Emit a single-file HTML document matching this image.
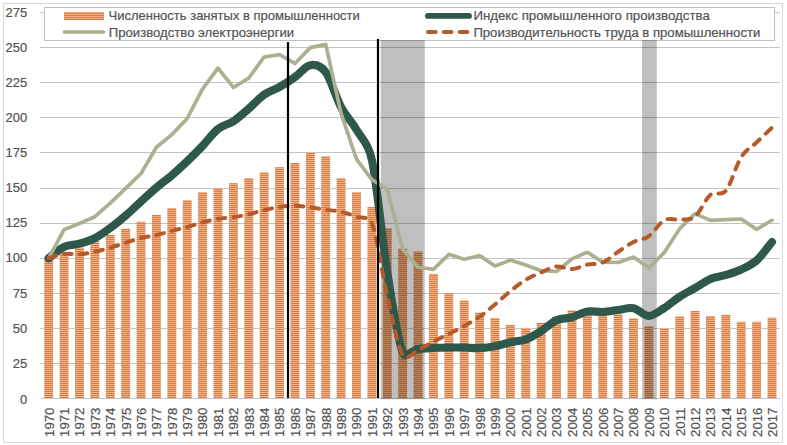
<!DOCTYPE html><html><head><meta charset="utf-8"><style>html,body{margin:0;padding:0;background:#fff;}svg{display:block;}</style></head><body>
<svg width="787" height="445" viewBox="0 0 787 445">
<defs><pattern id="hs" patternUnits="userSpaceOnUse" x="0" y="0" width="4" height="2"><rect x="0" y="0" width="4" height="1" fill="#f9b07c"/><rect x="0" y="1" width="4" height="1" fill="#d08050"/></pattern></defs>
<rect x="0" y="0" width="787" height="445" fill="#fff"/>
<rect x="3.5" y="3.5" width="779" height="439" fill="none" stroke="#d9d9d9" stroke-width="1"/>
<line x1="40" y1="363.5" x2="779.7" y2="363.5" stroke="#c4c4c4" stroke-width="1"/>
<line x1="40" y1="328.5" x2="779.7" y2="328.5" stroke="#c4c4c4" stroke-width="1"/>
<line x1="40" y1="293.5" x2="779.7" y2="293.5" stroke="#c4c4c4" stroke-width="1"/>
<line x1="40" y1="258.5" x2="779.7" y2="258.5" stroke="#c4c4c4" stroke-width="1"/>
<line x1="40" y1="223.5" x2="779.7" y2="223.5" stroke="#c4c4c4" stroke-width="1"/>
<line x1="40" y1="188.5" x2="779.7" y2="188.5" stroke="#c4c4c4" stroke-width="1"/>
<line x1="40" y1="152.5" x2="779.7" y2="152.5" stroke="#c4c4c4" stroke-width="1"/>
<line x1="40" y1="117.5" x2="779.7" y2="117.5" stroke="#c4c4c4" stroke-width="1"/>
<line x1="40" y1="82.5" x2="779.7" y2="82.5" stroke="#c4c4c4" stroke-width="1"/>
<line x1="40" y1="47.5" x2="779.7" y2="47.5" stroke="#c4c4c4" stroke-width="1"/>
<line x1="40" y1="12.5" x2="779.7" y2="12.5" stroke="#c4c4c4" stroke-width="1"/>
<text x="27.3" y="403.5" text-anchor="end" font-size="13" fill="#535353" font-family="Liberation Sans, sans-serif" stroke="#535353" stroke-width="0.2">0</text>
<text x="27.3" y="367.7" text-anchor="end" font-size="13" fill="#535353" font-family="Liberation Sans, sans-serif" stroke="#535353" stroke-width="0.2">25</text>
<text x="27.3" y="332.6" text-anchor="end" font-size="13" fill="#535353" font-family="Liberation Sans, sans-serif" stroke="#535353" stroke-width="0.2">50</text>
<text x="27.3" y="297.5" text-anchor="end" font-size="13" fill="#535353" font-family="Liberation Sans, sans-serif" stroke="#535353" stroke-width="0.2">75</text>
<text x="27.3" y="262.4" text-anchor="end" font-size="13" fill="#535353" font-family="Liberation Sans, sans-serif" stroke="#535353" stroke-width="0.2">100</text>
<text x="27.3" y="227.4" text-anchor="end" font-size="13" fill="#535353" font-family="Liberation Sans, sans-serif" stroke="#535353" stroke-width="0.2">125</text>
<text x="27.3" y="192.3" text-anchor="end" font-size="13" fill="#535353" font-family="Liberation Sans, sans-serif" stroke="#535353" stroke-width="0.2">150</text>
<text x="27.3" y="157.2" text-anchor="end" font-size="13" fill="#535353" font-family="Liberation Sans, sans-serif" stroke="#535353" stroke-width="0.2">175</text>
<text x="27.3" y="122.1" text-anchor="end" font-size="13" fill="#535353" font-family="Liberation Sans, sans-serif" stroke="#535353" stroke-width="0.2">200</text>
<text x="27.3" y="87.0" text-anchor="end" font-size="13" fill="#535353" font-family="Liberation Sans, sans-serif" stroke="#535353" stroke-width="0.2">225</text>
<text x="27.3" y="51.9" text-anchor="end" font-size="13" fill="#535353" font-family="Liberation Sans, sans-serif" stroke="#535353" stroke-width="0.2">250</text>
<text x="27.3" y="16.8" text-anchor="end" font-size="13" fill="#535353" font-family="Liberation Sans, sans-serif" stroke="#535353" stroke-width="0.2">275</text>
<rect x="44.24" y="258.14" width="8.9" height="140.36" fill="url(#hs)"/>
<rect x="59.63" y="253.23" width="8.9" height="145.27" fill="url(#hs)"/>
<rect x="75.02" y="247.61" width="8.9" height="150.89" fill="url(#hs)"/>
<rect x="90.41" y="241.02" width="8.9" height="157.48" fill="url(#hs)"/>
<rect x="105.80" y="234.84" width="8.9" height="163.66" fill="url(#hs)"/>
<rect x="121.19" y="228.66" width="8.9" height="169.84" fill="url(#hs)"/>
<rect x="136.58" y="221.65" width="8.9" height="176.85" fill="url(#hs)"/>
<rect x="151.97" y="214.91" width="8.9" height="183.59" fill="url(#hs)"/>
<rect x="167.36" y="208.03" width="8.9" height="190.47" fill="url(#hs)"/>
<rect x="182.75" y="200.17" width="8.9" height="198.33" fill="url(#hs)"/>
<rect x="198.14" y="192.17" width="8.9" height="206.33" fill="url(#hs)"/>
<rect x="213.53" y="188.10" width="8.9" height="210.40" fill="url(#hs)"/>
<rect x="228.92" y="183.19" width="8.9" height="215.31" fill="url(#hs)"/>
<rect x="244.31" y="178.13" width="8.9" height="220.37" fill="url(#hs)"/>
<rect x="259.70" y="172.38" width="8.9" height="226.12" fill="url(#hs)"/>
<rect x="275.09" y="167.19" width="8.9" height="231.31" fill="url(#hs)"/>
<rect x="290.48" y="162.98" width="8.9" height="235.52" fill="url(#hs)"/>
<rect x="305.87" y="152.73" width="8.9" height="245.77" fill="url(#hs)"/>
<rect x="321.26" y="156.24" width="8.9" height="242.26" fill="url(#hs)"/>
<rect x="336.65" y="178.13" width="8.9" height="220.37" fill="url(#hs)"/>
<rect x="352.04" y="192.17" width="8.9" height="206.33" fill="url(#hs)"/>
<rect x="367.43" y="207.05" width="8.9" height="191.45" fill="url(#hs)"/>
<rect x="382.82" y="228.10" width="8.9" height="170.40" fill="url(#hs)"/>
<rect x="398.21" y="248.60" width="8.9" height="149.90" fill="url(#hs)"/>
<rect x="413.59" y="251.54" width="8.9" height="146.96" fill="url(#hs)"/>
<rect x="428.98" y="273.86" width="8.9" height="124.64" fill="url(#hs)"/>
<rect x="444.37" y="293.23" width="8.9" height="105.27" fill="url(#hs)"/>
<rect x="459.76" y="300.53" width="8.9" height="97.97" fill="url(#hs)"/>
<rect x="475.15" y="312.60" width="8.9" height="85.90" fill="url(#hs)"/>
<rect x="490.54" y="317.93" width="8.9" height="80.57" fill="url(#hs)"/>
<rect x="505.93" y="324.81" width="8.9" height="73.69" fill="url(#hs)"/>
<rect x="521.32" y="327.90" width="8.9" height="70.60" fill="url(#hs)"/>
<rect x="536.71" y="322.85" width="8.9" height="75.65" fill="url(#hs)"/>
<rect x="552.10" y="316.53" width="8.9" height="81.97" fill="url(#hs)"/>
<rect x="567.49" y="310.35" width="8.9" height="88.15" fill="url(#hs)"/>
<rect x="582.88" y="310.07" width="8.9" height="88.43" fill="url(#hs)"/>
<rect x="598.27" y="311.48" width="8.9" height="87.02" fill="url(#hs)"/>
<rect x="613.66" y="314.28" width="8.9" height="84.22" fill="url(#hs)"/>
<rect x="629.05" y="318.21" width="8.9" height="80.29" fill="url(#hs)"/>
<rect x="644.44" y="326.07" width="8.9" height="72.43" fill="url(#hs)"/>
<rect x="659.83" y="328.32" width="8.9" height="70.18" fill="url(#hs)"/>
<rect x="675.22" y="316.39" width="8.9" height="82.11" fill="url(#hs)"/>
<rect x="690.61" y="310.92" width="8.9" height="87.58" fill="url(#hs)"/>
<rect x="706.00" y="316.11" width="8.9" height="82.39" fill="url(#hs)"/>
<rect x="721.39" y="314.71" width="8.9" height="83.79" fill="url(#hs)"/>
<rect x="736.78" y="321.72" width="8.9" height="76.78" fill="url(#hs)"/>
<rect x="752.17" y="321.72" width="8.9" height="76.78" fill="url(#hs)"/>
<rect x="767.56" y="317.65" width="8.9" height="80.85" fill="url(#hs)"/>
<line x1="41.0" y1="398.5" x2="779.7" y2="398.5" stroke="#bfc6ca" stroke-width="1"/>
<rect x="44.5" y="7.5" width="730" height="33" fill="#fff" stroke="#bfbfbf" stroke-width="1"/>
<rect x="380.8" y="40" width="43.9" height="359.2" fill="rgba(0,0,0,0.25)"/>
<rect x="642.1" y="40" width="14.7" height="359.2" fill="rgba(0,0,0,0.25)"/>
<path d="M48.69,258.14 C51.26,256.27 58.95,249.32 64.08,246.91 C69.21,244.50 74.34,245.16 79.47,243.68 C84.60,242.21 89.73,240.69 94.86,238.07 C99.99,235.45 105.12,231.71 110.25,227.96 C115.38,224.22 120.51,220.03 125.64,215.61 C130.77,211.19 135.90,206.11 141.03,201.43 C146.16,196.76 151.29,191.89 156.42,187.54 C161.55,183.19 166.68,179.70 171.81,175.33 C176.94,170.95 182.07,166.20 187.20,161.29 C192.33,156.38 197.46,151.23 202.59,145.85 C207.72,140.47 212.85,133.10 217.98,129.01 C223.11,124.91 228.24,124.68 233.37,121.29 C238.50,117.90 243.63,113.10 248.76,108.66 C253.89,104.21 259.02,98.25 264.15,94.62 C269.28,90.99 274.41,89.82 279.54,86.90 C284.67,83.98 289.80,80.70 294.93,77.08 C300.06,73.45 305.19,65.96 310.32,65.14 C315.45,64.33 320.72,65.34 325.71,72.16 C330.84,79.18 335.97,97.66 341.10,107.25 C346.23,116.84 351.36,120.94 356.49,129.71 C361.62,138.48 368.30,143.33 371.88,159.89 C377.01,183.63 382.14,240.13 387.27,272.18 C392.40,304.22 397.53,339.39 402.66,352.18 C405.58,359.48 412.91,349.65 418.04,348.95 C423.17,348.25 428.30,348.20 433.43,347.97 C438.56,347.74 443.69,347.62 448.82,347.55 C453.95,347.48 459.08,347.46 464.21,347.55 C469.34,347.64 474.47,348.32 479.60,348.11 C484.73,347.90 489.86,347.27 494.99,346.29 C500.12,345.30 505.25,343.34 510.38,342.22 C515.51,341.09 520.64,341.40 525.77,339.55 C530.90,337.70 536.03,334.36 541.16,331.13 C546.29,327.90 551.42,322.47 556.55,320.18 C561.68,317.89 566.81,318.82 571.94,317.37 C577.07,315.92 582.20,312.37 587.33,311.48 C592.46,310.59 597.59,312.27 602.72,312.04 C607.85,311.80 612.98,310.70 618.11,310.07 C623.24,309.44 628.37,307.27 633.50,308.25 C638.63,309.23 643.76,316.02 648.89,315.97 C654.02,315.92 659.15,311.17 664.28,307.97 C669.41,304.76 674.54,300.06 679.67,296.74 C684.80,293.42 689.93,291.01 695.06,288.04 C700.19,285.07 705.32,281.09 710.45,278.91 C715.58,276.74 720.71,276.55 725.84,274.98 C730.97,273.42 736.10,271.94 741.23,269.51 C746.36,267.08 751.49,264.97 756.62,260.39 C761.75,255.80 769.44,245.06 772.01,242.00" fill="none" stroke="#2f584d" stroke-width="8.1" stroke-linecap="round" stroke-linejoin="round"/>
<polyline points="48.69,258.14 64.08,229.65 79.47,223.47 94.86,216.73 110.25,203.12 125.64,188.38 141.03,173.50 156.42,147.26 171.81,134.62 187.20,118.48 202.59,88.87 217.98,68.09 233.37,87.46 248.76,78.06 264.15,57.00 279.54,54.62 294.93,63.46 310.32,47.60 325.71,44.37 341.10,113.57 356.49,159.19 371.88,179.54 387.27,189.36 402.66,249.16 418.04,267.26 433.43,269.37 448.82,254.35 464.21,259.26 479.60,255.61 494.99,266.00 510.38,260.11 525.77,265.02 541.16,270.77 556.55,271.47 571.94,258.84 587.33,252.24 602.72,262.07 618.11,262.49 633.50,257.02 648.89,267.97 664.28,252.53 679.67,228.66 695.06,213.65 710.45,220.38 725.84,219.54 741.23,218.98 756.62,229.37 772.01,220.24" fill="none" stroke="#abb190" stroke-width="3.7" stroke-linecap="round" stroke-linejoin="round"/>
<path d="M48.69,258.14 C51.26,257.41 58.95,254.42 64.08,253.79 C69.21,253.16 74.34,254.70 79.47,254.35 C84.60,254.00 89.73,252.78 94.86,251.68 C99.99,250.58 105.12,249.25 110.25,247.75 C115.38,246.26 120.51,244.34 125.64,242.70 C130.77,241.06 135.90,239.21 141.03,237.93 C146.16,236.64 151.29,236.15 156.42,234.98 C161.55,233.81 166.68,232.24 171.81,230.91 C176.94,229.58 182.07,228.41 187.20,226.98 C192.33,225.55 197.46,223.73 202.59,222.35 C207.72,220.97 212.85,219.56 217.98,218.70 C223.11,217.83 228.24,217.90 233.37,217.15 C238.50,216.41 243.63,215.38 248.76,214.21 C253.89,213.04 259.02,211.33 264.15,210.14 C269.28,208.94 274.41,207.77 279.54,207.05 C284.67,206.32 289.80,205.74 294.93,205.79 C300.06,205.83 305.19,206.67 310.32,207.33 C315.45,207.98 320.58,208.97 325.71,209.72 C330.84,210.46 335.97,210.65 341.10,211.82 C346.23,212.99 351.36,214.82 356.49,216.73 C361.62,218.65 368.85,215.53 371.88,223.33 C377.01,236.55 382.14,274.09 387.27,296.04 C392.40,317.98 397.53,345.98 402.66,354.99 C406.65,362.01 412.91,352.32 418.04,350.08 C423.17,347.83 428.30,344.20 433.43,341.51 C438.56,338.82 443.69,336.51 448.82,333.93 C453.95,331.36 459.08,328.95 464.21,326.07 C469.34,323.20 474.47,320.27 479.60,316.67 C484.73,313.07 489.86,308.72 494.99,304.46 C500.12,300.20 505.25,295.24 510.38,291.12 C515.51,287.01 520.64,282.89 525.77,279.76 C530.90,276.62 536.03,274.52 541.16,272.32 C546.29,270.12 551.42,267.10 556.55,266.56 C561.68,266.02 566.81,269.42 571.94,269.09 C577.07,268.76 582.20,265.70 587.33,264.60 C592.46,263.50 597.59,264.62 602.72,262.49 C607.85,260.36 612.98,255.24 618.11,251.82 C623.24,248.41 628.37,244.62 633.50,242.00 C638.63,239.38 643.76,239.73 648.89,236.10 C654.02,232.48 659.15,223.00 664.28,220.24 C669.41,217.48 674.54,220.15 679.67,219.54 C684.80,218.93 689.93,220.73 695.06,216.59 C700.19,212.45 705.32,199.00 710.45,194.70 C715.58,190.39 720.81,196.91 725.84,190.77 C730.97,184.50 736.10,165.15 741.23,157.08 C746.36,149.01 751.49,147.26 756.62,142.34 C761.75,137.43 769.44,130.06 772.01,127.61" fill="none" stroke="#b55b2b" stroke-width="4" stroke-linecap="round" stroke-linejoin="round" stroke-dasharray="7.7 8.15"/>
<text transform="translate(53.59,407.5) rotate(-90)" text-anchor="end" font-size="13.25" fill="#535353" font-family="Liberation Sans, sans-serif" stroke="#535353" stroke-width="0.2">1970</text>
<text transform="translate(68.98,407.5) rotate(-90)" text-anchor="end" font-size="13.25" fill="#535353" font-family="Liberation Sans, sans-serif" stroke="#535353" stroke-width="0.2">1971</text>
<text transform="translate(84.37,407.5) rotate(-90)" text-anchor="end" font-size="13.25" fill="#535353" font-family="Liberation Sans, sans-serif" stroke="#535353" stroke-width="0.2">1972</text>
<text transform="translate(99.76,407.5) rotate(-90)" text-anchor="end" font-size="13.25" fill="#535353" font-family="Liberation Sans, sans-serif" stroke="#535353" stroke-width="0.2">1973</text>
<text transform="translate(115.15,407.5) rotate(-90)" text-anchor="end" font-size="13.25" fill="#535353" font-family="Liberation Sans, sans-serif" stroke="#535353" stroke-width="0.2">1974</text>
<text transform="translate(130.54,407.5) rotate(-90)" text-anchor="end" font-size="13.25" fill="#535353" font-family="Liberation Sans, sans-serif" stroke="#535353" stroke-width="0.2">1975</text>
<text transform="translate(145.93,407.5) rotate(-90)" text-anchor="end" font-size="13.25" fill="#535353" font-family="Liberation Sans, sans-serif" stroke="#535353" stroke-width="0.2">1976</text>
<text transform="translate(161.32,407.5) rotate(-90)" text-anchor="end" font-size="13.25" fill="#535353" font-family="Liberation Sans, sans-serif" stroke="#535353" stroke-width="0.2">1977</text>
<text transform="translate(176.71,407.5) rotate(-90)" text-anchor="end" font-size="13.25" fill="#535353" font-family="Liberation Sans, sans-serif" stroke="#535353" stroke-width="0.2">1978</text>
<text transform="translate(192.10,407.5) rotate(-90)" text-anchor="end" font-size="13.25" fill="#535353" font-family="Liberation Sans, sans-serif" stroke="#535353" stroke-width="0.2">1979</text>
<text transform="translate(207.49,407.5) rotate(-90)" text-anchor="end" font-size="13.25" fill="#535353" font-family="Liberation Sans, sans-serif" stroke="#535353" stroke-width="0.2">1980</text>
<text transform="translate(222.88,407.5) rotate(-90)" text-anchor="end" font-size="13.25" fill="#535353" font-family="Liberation Sans, sans-serif" stroke="#535353" stroke-width="0.2">1981</text>
<text transform="translate(238.27,407.5) rotate(-90)" text-anchor="end" font-size="13.25" fill="#535353" font-family="Liberation Sans, sans-serif" stroke="#535353" stroke-width="0.2">1982</text>
<text transform="translate(253.66,407.5) rotate(-90)" text-anchor="end" font-size="13.25" fill="#535353" font-family="Liberation Sans, sans-serif" stroke="#535353" stroke-width="0.2">1983</text>
<text transform="translate(269.05,407.5) rotate(-90)" text-anchor="end" font-size="13.25" fill="#535353" font-family="Liberation Sans, sans-serif" stroke="#535353" stroke-width="0.2">1984</text>
<text transform="translate(284.44,407.5) rotate(-90)" text-anchor="end" font-size="13.25" fill="#535353" font-family="Liberation Sans, sans-serif" stroke="#535353" stroke-width="0.2">1985</text>
<text transform="translate(299.83,407.5) rotate(-90)" text-anchor="end" font-size="13.25" fill="#535353" font-family="Liberation Sans, sans-serif" stroke="#535353" stroke-width="0.2">1986</text>
<text transform="translate(315.22,407.5) rotate(-90)" text-anchor="end" font-size="13.25" fill="#535353" font-family="Liberation Sans, sans-serif" stroke="#535353" stroke-width="0.2">1987</text>
<text transform="translate(330.61,407.5) rotate(-90)" text-anchor="end" font-size="13.25" fill="#535353" font-family="Liberation Sans, sans-serif" stroke="#535353" stroke-width="0.2">1988</text>
<text transform="translate(346.00,407.5) rotate(-90)" text-anchor="end" font-size="13.25" fill="#535353" font-family="Liberation Sans, sans-serif" stroke="#535353" stroke-width="0.2">1989</text>
<text transform="translate(361.39,407.5) rotate(-90)" text-anchor="end" font-size="13.25" fill="#535353" font-family="Liberation Sans, sans-serif" stroke="#535353" stroke-width="0.2">1990</text>
<text transform="translate(376.78,407.5) rotate(-90)" text-anchor="end" font-size="13.25" fill="#535353" font-family="Liberation Sans, sans-serif" stroke="#535353" stroke-width="0.2">1991</text>
<text transform="translate(392.17,407.5) rotate(-90)" text-anchor="end" font-size="13.25" fill="#535353" font-family="Liberation Sans, sans-serif" stroke="#535353" stroke-width="0.2">1992</text>
<text transform="translate(407.56,407.5) rotate(-90)" text-anchor="end" font-size="13.25" fill="#535353" font-family="Liberation Sans, sans-serif" stroke="#535353" stroke-width="0.2">1993</text>
<text transform="translate(422.94,407.5) rotate(-90)" text-anchor="end" font-size="13.25" fill="#535353" font-family="Liberation Sans, sans-serif" stroke="#535353" stroke-width="0.2">1994</text>
<text transform="translate(438.33,407.5) rotate(-90)" text-anchor="end" font-size="13.25" fill="#535353" font-family="Liberation Sans, sans-serif" stroke="#535353" stroke-width="0.2">1995</text>
<text transform="translate(453.72,407.5) rotate(-90)" text-anchor="end" font-size="13.25" fill="#535353" font-family="Liberation Sans, sans-serif" stroke="#535353" stroke-width="0.2">1996</text>
<text transform="translate(469.11,407.5) rotate(-90)" text-anchor="end" font-size="13.25" fill="#535353" font-family="Liberation Sans, sans-serif" stroke="#535353" stroke-width="0.2">1997</text>
<text transform="translate(484.50,407.5) rotate(-90)" text-anchor="end" font-size="13.25" fill="#535353" font-family="Liberation Sans, sans-serif" stroke="#535353" stroke-width="0.2">1998</text>
<text transform="translate(499.89,407.5) rotate(-90)" text-anchor="end" font-size="13.25" fill="#535353" font-family="Liberation Sans, sans-serif" stroke="#535353" stroke-width="0.2">1999</text>
<text transform="translate(515.28,407.5) rotate(-90)" text-anchor="end" font-size="13.25" fill="#535353" font-family="Liberation Sans, sans-serif" stroke="#535353" stroke-width="0.2">2000</text>
<text transform="translate(530.67,407.5) rotate(-90)" text-anchor="end" font-size="13.25" fill="#535353" font-family="Liberation Sans, sans-serif" stroke="#535353" stroke-width="0.2">2001</text>
<text transform="translate(546.06,407.5) rotate(-90)" text-anchor="end" font-size="13.25" fill="#535353" font-family="Liberation Sans, sans-serif" stroke="#535353" stroke-width="0.2">2002</text>
<text transform="translate(561.45,407.5) rotate(-90)" text-anchor="end" font-size="13.25" fill="#535353" font-family="Liberation Sans, sans-serif" stroke="#535353" stroke-width="0.2">2003</text>
<text transform="translate(576.84,407.5) rotate(-90)" text-anchor="end" font-size="13.25" fill="#535353" font-family="Liberation Sans, sans-serif" stroke="#535353" stroke-width="0.2">2004</text>
<text transform="translate(592.23,407.5) rotate(-90)" text-anchor="end" font-size="13.25" fill="#535353" font-family="Liberation Sans, sans-serif" stroke="#535353" stroke-width="0.2">2005</text>
<text transform="translate(607.62,407.5) rotate(-90)" text-anchor="end" font-size="13.25" fill="#535353" font-family="Liberation Sans, sans-serif" stroke="#535353" stroke-width="0.2">2006</text>
<text transform="translate(623.01,407.5) rotate(-90)" text-anchor="end" font-size="13.25" fill="#535353" font-family="Liberation Sans, sans-serif" stroke="#535353" stroke-width="0.2">2007</text>
<text transform="translate(638.40,407.5) rotate(-90)" text-anchor="end" font-size="13.25" fill="#535353" font-family="Liberation Sans, sans-serif" stroke="#535353" stroke-width="0.2">2008</text>
<text transform="translate(653.79,407.5) rotate(-90)" text-anchor="end" font-size="13.25" fill="#535353" font-family="Liberation Sans, sans-serif" stroke="#535353" stroke-width="0.2">2009</text>
<text transform="translate(669.18,407.5) rotate(-90)" text-anchor="end" font-size="13.25" fill="#535353" font-family="Liberation Sans, sans-serif" stroke="#535353" stroke-width="0.2">2010</text>
<text transform="translate(684.57,407.5) rotate(-90)" text-anchor="end" font-size="13.25" fill="#535353" font-family="Liberation Sans, sans-serif" stroke="#535353" stroke-width="0.2">2011</text>
<text transform="translate(699.96,407.5) rotate(-90)" text-anchor="end" font-size="13.25" fill="#535353" font-family="Liberation Sans, sans-serif" stroke="#535353" stroke-width="0.2">2012</text>
<text transform="translate(715.35,407.5) rotate(-90)" text-anchor="end" font-size="13.25" fill="#535353" font-family="Liberation Sans, sans-serif" stroke="#535353" stroke-width="0.2">2013</text>
<text transform="translate(730.74,407.5) rotate(-90)" text-anchor="end" font-size="13.25" fill="#535353" font-family="Liberation Sans, sans-serif" stroke="#535353" stroke-width="0.2">2014</text>
<text transform="translate(746.13,407.5) rotate(-90)" text-anchor="end" font-size="13.25" fill="#535353" font-family="Liberation Sans, sans-serif" stroke="#535353" stroke-width="0.2">2015</text>
<text transform="translate(761.52,407.5) rotate(-90)" text-anchor="end" font-size="13.25" fill="#535353" font-family="Liberation Sans, sans-serif" stroke="#535353" stroke-width="0.2">2016</text>
<text transform="translate(776.91,407.5) rotate(-90)" text-anchor="end" font-size="13.25" fill="#535353" font-family="Liberation Sans, sans-serif" stroke="#535353" stroke-width="0.2">2017</text>
<rect x="64" y="12" width="40" height="8" fill="url(#hs)"/>
<line x1="64.5" y1="32" x2="103.5" y2="32" stroke="#a8ae8e" stroke-width="3.6" stroke-linecap="round"/>
<text x="108.5" y="19.8" font-size="13" fill="#535353" font-family="Liberation Sans, sans-serif" stroke="#535353" stroke-width="0.2">Численность занятых в промышленности</text>
<text x="108.8" y="36.8" font-size="13.15" fill="#535353" font-family="Liberation Sans, sans-serif" stroke="#535353" stroke-width="0.2">Производство электроэнергии</text>
<line x1="427.9" y1="15.9" x2="469" y2="15.9" stroke="#2f584d" stroke-width="5.8" stroke-linecap="round"/>
<line x1="428" y1="31.9" x2="470" y2="31.9" stroke="#b55b2b" stroke-width="4" stroke-linecap="round" stroke-dasharray="7.7 8.15"/>
<text x="473.4" y="19.8" font-size="13.27" fill="#535353" font-family="Liberation Sans, sans-serif" stroke="#535353" stroke-width="0.2">Индекс промышленного производства</text>
<text x="473.4" y="36.8" font-size="13.13" fill="#535353" font-family="Liberation Sans, sans-serif" stroke="#535353" stroke-width="0.2">Производительность труда в промышленности</text>
<line x1="288" y1="42" x2="288" y2="398" stroke="#000" stroke-width="2.2"/>
<line x1="378" y1="39" x2="378" y2="398" stroke="#000" stroke-width="2.2"/>
</svg></body></html>
